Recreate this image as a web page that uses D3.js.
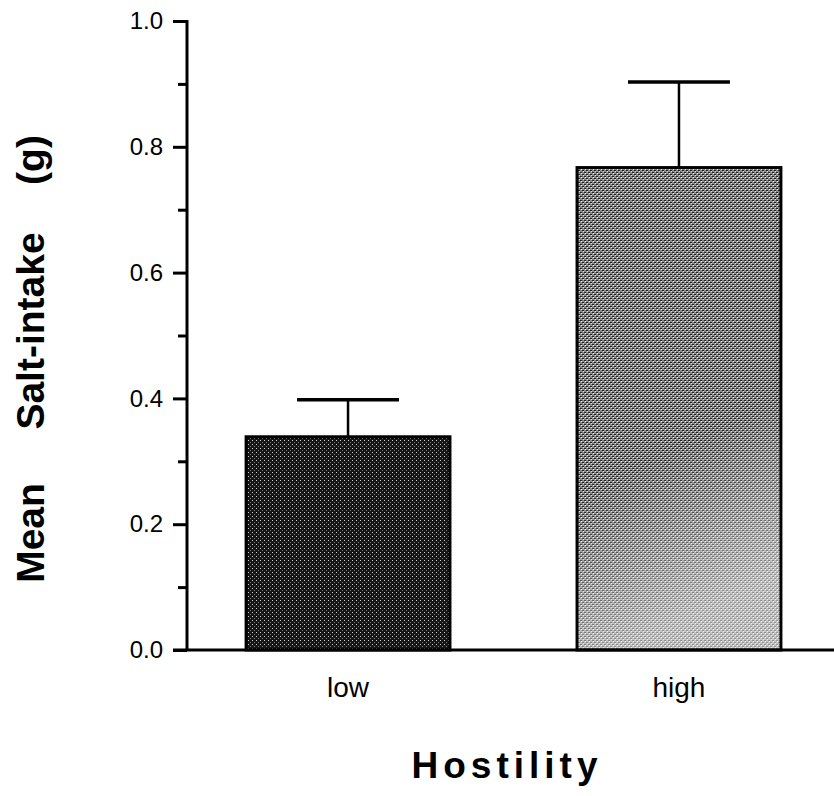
<!DOCTYPE html>
<html>
<head>
<meta charset="utf-8">
<script src="https://cdn.jsdelivr.net/npm/d3@7"></script>
<style>
  body { margin: 0; background: #fff; }
  svg { display: block; }
  text { font-family: "Liberation Sans", Arial, Helvetica, sans-serif; fill: #000; }
  .xlab { font-size: 28px; }
  .ytitle { font-size: 39px; font-weight: bold; }
  .xtitle { font-size: 37px; font-weight: bold; letter-spacing: 5px; }
</style>
</head>
<body>
<div id="chart"></div>
<script>
// data
var groups = ["low", "high"];
var means = [0.339, 0.767];
var errors = [0.059, 0.136];
var majorTicks = [0.0, 0.2, 0.4, 0.6, 0.8, 1.0];
var minorTicks = [0.1, 0.3, 0.5, 0.7, 0.9];

var W = 834, H = 796;
var axisX = 187;

var dataset = groups.map(function(g, i) {
  return {group: g, mean: means[i], err: errors[i]};
});

var svg = d3.select("#chart")
  .append("svg")
  .attr("width", W)
  .attr("height", H);

var defs = svg.append("defs");

// stipple textures roughly like the printed bars
var pLow = defs.append("pattern")
  .attr("id", "pLow")
  .attr("width", 4).attr("height", 4)
  .attr("patternUnits", "userSpaceOnUse");
pLow.append("rect").attr("width", 4).attr("height", 4).attr("fill", "#151515");
pLow.append("rect").attr("x", 0).attr("y", 0).attr("width", 1).attr("height", 1).attr("fill", "#d0d0d0");
pLow.append("rect").attr("x", 2).attr("y", 2).attr("width", 1).attr("height", 1).attr("fill", "#808080");

var pHigh = defs.append("pattern")
  .attr("id", "pHigh")
  .attr("width", 4).attr("height", 4)
  .attr("patternUnits", "userSpaceOnUse");
pHigh.append("rect").attr("width", 4).attr("height", 4).attr("fill", "#8a8a8a");
pHigh.append("rect").attr("x", 0).attr("y", 0).attr("width", 2).attr("height", 1).attr("fill", "#202020");
pHigh.append("rect").attr("x", 2).attr("y", 2).attr("width", 2).attr("height", 1).attr("fill", "#202020");
pHigh.append("rect").attr("x", 1).attr("y", 1).attr("width", 1).attr("height", 1).attr("fill", "#ffffff");
pHigh.append("rect").attr("x", 3).attr("y", 3).attr("width", 1).attr("height", 1).attr("fill", "#e0e0e0");

var fade = defs.append("linearGradient")
  .attr("id", "fade")
  .attr("x1", 0).attr("y1", 0).attr("x2", 0.2).attr("y2", 1);
fade.append("stop").attr("offset", "0.65").attr("stop-color", "#fff").attr("stop-opacity", 0);
fade.append("stop").attr("offset", "1").attr("stop-color", "#fff").attr("stop-opacity", 0.5);

var y = d3.scaleLinear()
  .domain([0, 1])
  .range([650, 21]);

var x = d3.scaleBand()
  .domain(groups)
  .range([213, 814])
  .paddingInner(0.384)
  .paddingOuter(0.1);

// bars
svg.selectAll(".bar")
  .data(dataset)
  .enter()
  .append("rect")
  .attr("class", "bar")
  .attr("x", function(d) { return x(d.group); })
  .attr("y", function(d) { return y(d.mean); })
  .attr("width", x.bandwidth())
  .attr("height", function(d) { return y(0) - y(d.mean); })
  .attr("fill", function(d, i) { return i == 0 ? "url(#pLow)" : "url(#pHigh)"; })
  .attr("stroke", "#000")
  .attr("stroke-width", 3);

// lighter lower part of the high bar
svg.selectAll(".fade")
  .data(dataset.filter(function(d) { return d.group == "high"; }))
  .enter()
  .append("rect")
  .attr("class", "fade")
  .attr("x", function(d) { return x(d.group) + 1.5; })
  .attr("y", function(d) { return y(d.mean) + 1.5; })
  .attr("width", x.bandwidth() - 3)
  .attr("height", function(d) { return y(0) - y(d.mean) - 3; })
  .attr("fill", "url(#fade)");

// error bars (upper only)
var eb = svg.selectAll(".err")
  .data(dataset)
  .enter()
  .append("g")
  .attr("class", "err");

eb.append("line")
  .attr("x1", function(d) { return x(d.group) + x.bandwidth() / 2; })
  .attr("x2", function(d) { return x(d.group) + x.bandwidth() / 2; })
  .attr("y1", function(d) { return y(d.mean); })
  .attr("y2", function(d) { return y(d.mean + d.err); })
  .attr("stroke", "#000")
  .attr("stroke-width", 2.5);

eb.append("line")
  .attr("x1", function(d) { return x(d.group) + x.bandwidth() / 4; })
  .attr("x2", function(d) { return x(d.group) + x.bandwidth() * 3 / 4; })
  .attr("y1", function(d) { return y(d.mean + d.err); })
  .attr("y2", function(d) { return y(d.mean + d.err); })
  .attr("stroke", "#000")
  .attr("stroke-width", 3.5);

// y axis, major ticks with labels
var yAxis = svg.append("g")
  .attr("transform", "translate(" + axisX + ",0)")
  .call(d3.axisLeft(y)
    .tickValues(majorTicks)
    .tickSize(14)
    .tickSizeOuter(0)
    .tickPadding(10)
    .tickFormat(d3.format(".1f")));
yAxis.attr("font-size", 24).attr("font-family", "Liberation Sans, Arial, sans-serif");
yAxis.select(".domain").remove();
yAxis.selectAll(".tick line").attr("stroke", "#000").attr("stroke-width", 3);

// minor ticks
var yMinor = svg.append("g")
  .attr("transform", "translate(" + axisX + ",0)")
  .call(d3.axisLeft(y)
    .tickValues(minorTicks)
    .tickSize(9)
    .tickSizeOuter(0)
    .tickFormat(""));
yMinor.select(".domain").remove();
yMinor.selectAll(".tick line").attr("stroke", "#000").attr("stroke-width", 3);

// axis lines
svg.append("line")
  .attr("x1", axisX).attr("x2", axisX)
  .attr("y1", y(1) - 1).attr("y2", y(0))
  .attr("stroke", "#000").attr("stroke-width", 3);

svg.append("line")
  .attr("x1", axisX - 14).attr("x2", W)
  .attr("y1", y(0)).attr("y2", y(0))
  .attr("stroke", "#000").attr("stroke-width", 3);

// category labels
svg.selectAll(".xlab")
  .data(groups)
  .enter()
  .append("text")
  .attr("class", "xlab")
  .attr("x", function(d) { return x(d) + x.bandwidth() / 2; })
  .attr("y", 697)
  .attr("text-anchor", "middle")
  .text(function(d) { return d; });

// titles
svg.append("text")
  .attr("class", "xtitle")
  .attr("x", 507)
  .attr("y", 778)
  .attr("text-anchor", "middle")
  .text("Hostility");

var yWords = [["Mean", 533], ["Salt-intake", 331], ["(g)", 160]];
svg.selectAll(".ytitle")
  .data(yWords)
  .enter()
  .append("text")
  .attr("class", "ytitle")
  .attr("text-anchor", "middle")
  .attr("transform", function(d) { return "translate(44," + d[1] + ") rotate(-90)"; })
  .text(function(d) { return d[0]; });
</script>
</body>
</html>
